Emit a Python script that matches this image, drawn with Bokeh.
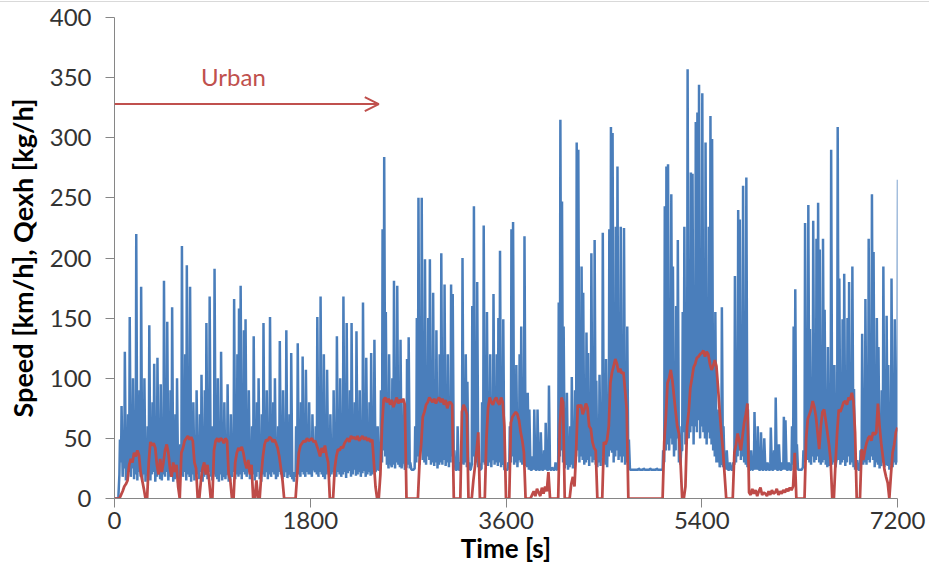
from bokeh.plotting import figure
from bokeh.models import Arrow, OpenHead, FixedTicker, Label, Range1d, Div
from bokeh.layouts import column
from bokeh.embed import file_html
from bokeh.resources import INLINE

# ---- data ----
STEP_Q = 15    # s per exhaust-flow window (min at window start, max inside the window)
PEAK_AT = 5    # s into the window where the max is plotted
STEP_V = 15    # s between speed samples

# exhaust flow Qexh [kg/h]: maximum in each 15 s window
qexh = [
    0, 0, 0, 49, 77, 40, 122, 30, 70, 151, 45, 100, 60, 220, 40, 90, 176, 30, 100, 25,
    60, 144, 35, 80, 112, 30, 117, 40, 95, 30, 181, 55, 147, 35, 90, 159, 30, 70, 100, 25,
    45, 210, 40, 120, 194, 50, 176, 35, 80, 30, 90, 40, 70, 103, 30, 90, 146, 40, 168, 50,
    60, 191, 40, 100, 35, 122, 30, 80, 25, 95, 30, 70, 40, 166, 30, 120, 158, 177, 40, 140,
    149, 30, 90, 25, 60, 135, 30, 80, 100, 25, 70, 146, 35, 90, 40, 151, 30, 80, 100, 25,
    60, 131, 35, 90, 30, 140, 25, 70, 121, 20, 22, 60, 129, 30, 80, 118, 30, 107, 40, 80,
    30, 70, 25, 60, 151, 40, 168, 50, 120, 30, 107, 25, 70, 30, 90, 30, 135, 40, 100, 30,
    168, 40, 146, 30, 90, 146, 30, 80, 139, 25, 90, 30, 163, 40, 117, 25, 80, 121, 30, 132,
    25, 60, 24, 90, 224, 284, 155, 40, 120, 30, 100, 181, 60, 177, 40, 132, 30, 80, 25, 116,
    134, 30, 24, 24, 60, 150, 250, 50, 250, 120, 199, 60, 150, 199, 50, 171, 60, 140, 40, 120,
    204, 50, 178, 40, 120, 60, 178, 170, 40, 24, 60, 24, 30, 200, 60, 120, 97, 30, 24, 160,
    243, 60, 180, 30, 24, 80, 227, 60, 155, 50, 120, 40, 170, 60, 120, 150, 206, 50, 149, 24,
    24, 30, 60, 224, 230, 80, 111, 40, 120, 143, 60, 218, 40, 88, 74, 24, 35, 74, 24, 74,
    24, 55, 24, 40, 63, 24, 94, 24, 26, 24, 30, 24, 163, 315, 247, 143, 40, 88, 30, 60,
    101, 40, 90, 296, 290, 80, 193, 171, 60, 138, 121, 50, 204, 70, 215, 98, 40, 103, 50, 221,
    60, 116, 50, 224, 309, 304, 90, 226, 276, 120, 226, 100, 225, 90, 143, 49, 24, 24, 24, 24,
    24, 25, 24, 24, 25, 24, 24, 24, 25, 24, 24, 24, 25, 24, 24, 24, 40, 243, 276, 278,
    60, 253, 193, 60, 160, 215, 60, 40, 155, 226, 80, 357, 100, 271, 270, 90, 313, 321, 344, 100,
    337, 120, 296, 100, 226, 318, 299, 90, 155, 60, 74, 30, 159, 60, 32, 40, 24, 30, 24, 30,
    185, 60, 240, 232, 70, 260, 80, 267, 74, 24, 40, 24, 72, 30, 60, 24, 55, 24, 50, 24,
    30, 24, 59, 24, 40, 84, 24, 45, 24, 30, 68, 65, 24, 30, 24, 60, 143, 174, 45, 24,
    24, 24, 40, 229, 100, 244, 141, 50, 231, 80, 216, 246, 207, 60, 216, 157, 50, 126, 40, 290,
    60, 111, 30, 309, 183, 60, 149, 187, 50, 150, 180, 60, 193, 91, 30, 32, 24, 40, 137, 60,
    166, 50, 216, 80, 253, 205, 40, 150, 126, 30, 90, 193, 40, 152, 111, 30, 183, 50, 149, 60,
    265,
]

# exhaust flow Qexh [kg/h]: minimum in each 15 s window
qexh_min = [
    0, 0, 0, 20, 30, 18, 25, 15, 20, 22, 18, 25, 16, 20, 15, 22, 18, 15, 20, 14,
    18, 25, 15, 20, 22, 14, 18, 20, 16, 15, 20, 18, 22, 15, 18, 20, 14, 16, 22, 13,
    16, 20, 18, 22, 15, 20, 18, 14, 20, 15, 18, 20, 16, 22, 14, 18, 20, 16, 22, 18,
    15, 20, 18, 16, 14, 20, 15, 18, 16, 20, 14, 15, 18, 22, 16, 20, 18, 20, 16, 22,
    20, 18, 22, 16, 18, 20, 15, 18, 22, 16, 14, 20, 18, 22, 16, 20, 18, 22, 20, 16,
    18, 22, 20, 16, 18, 22, 17, 20, 18, 16, 14, 18, 22, 20, 18, 22, 20, 18, 22, 20,
    20, 18, 25, 22, 20, 18, 22, 20, 18, 16, 20, 22, 18, 20, 22, 20, 18, 22, 20, 18,
    20, 22, 17, 21, 23, 18, 20, 24, 19, 20, 22, 18, 21, 23, 18, 20, 22, 19, 20, 22,
    22, 24, 23, 25, 30, 40, 35, 28, 25, 30, 26, 28, 25, 30, 28, 26, 25, 30, 24, 26,
    28, 25, 24, 24, 25, 30, 35, 28, 40, 32, 30, 28, 35, 32, 28, 30, 27, 30, 25, 28,
    30, 28, 32, 27, 30, 26, 30, 35, 28, 24, 24, 24, 24, 30, 28, 30, 26, 25, 24, 28,
    35, 28, 30, 26, 24, 25, 30, 28, 32, 27, 30, 26, 32, 28, 30, 27, 30, 26, 28, 24,
    24, 24, 25, 30, 35, 28, 30, 26, 32, 30, 28, 35, 27, 26, 24, 24, 24, 24, 24, 24,
    24, 24, 24, 24, 24, 24, 24, 24, 24, 24, 24, 24, 30, 35, 40, 30, 25, 28, 24, 26,
    28, 25, 27, 35, 40, 30, 35, 32, 28, 30, 32, 27, 35, 30, 32, 28, 26, 30, 27, 35,
    30, 28, 26, 35, 40, 38, 30, 35, 40, 32, 35, 30, 35, 28, 30, 24, 24, 24, 24, 24,
    24, 24, 24, 24, 24, 24, 24, 24, 24, 24, 24, 24, 24, 24, 24, 24, 24, 30, 40, 45,
    40, 50, 45, 35, 40, 50, 30, 28, 40, 55, 45, 60, 50, 55, 60, 45, 60, 55, 65, 50,
    60, 55, 50, 45, 55, 50, 45, 40, 35, 30, 30, 26, 28, 26, 24, 24, 24, 24, 24, 24,
    28, 30, 35, 40, 32, 35, 30, 28, 26, 24, 24, 24, 25, 24, 24, 24, 24, 24, 24, 24,
    24, 24, 24, 24, 24, 24, 24, 24, 24, 24, 24, 24, 24, 24, 24, 24, 28, 30, 24, 24,
    24, 24, 26, 30, 35, 32, 30, 28, 35, 30, 32, 35, 30, 28, 30, 32, 28, 26, 27, 30,
    28, 30, 26, 35, 32, 28, 30, 32, 27, 30, 35, 28, 30, 26, 24, 24, 24, 24, 30, 28,
    30, 28, 32, 30, 35, 32, 26, 30, 28, 25, 27, 30, 26, 28, 27, 24, 28, 26, 30, 28,
    30,
]

# vehicle speed [km/h], every 15 s
speed = [
    0, 0, 0, 0, 3, 6, 10, 12, 15, 28, 33, 30, 38, 35, 40, 36, 22, 15, 8, 0,
    0, 30, 47, 44, 46, 42, 28, 20, 33, 22, 30, 40, 45, 38, 25, 18, 30, 22, 28, 10,
    0, 38, 42, 48, 50, 52, 49, 51, 48, 30, 25, 0, 0, 15, 25, 30, 20, 28, 15, 0,
    0, 40, 48, 50, 47, 50, 49, 46, 50, 48, 20, 15, 0, 0, 30, 38, 42, 40, 43, 38,
    30, 25, 32, 20, 28, 0, 0, 15, 0, 0, 20, 35, 45, 49, 48, 51, 50, 47, 49, 46,
    42, 35, 25, 15, 0, 0, 0, 0, 0, 0, 0, 0, 20, 38, 44, 46, 48, 47, 50, 48,
    49, 50, 47, 48, 44, 40, 35, 42, 38, 44, 36, 30, 0, 0, 0, 25, 35, 41, 40, 43,
    42, 46, 48, 50, 47, 52, 50, 51, 49, 52, 48, 50, 52, 49, 51, 48, 50, 47, 49, 30,
    10, 0, 0, 20, 60, 82, 84, 80, 83, 78, 82, 76, 80, 84, 79, 82, 80, 83, 78, 0,
    0, 0, 0, 0, 0, 0, 0, 30, 45, 68, 72, 78, 80, 84, 82, 80, 83, 79, 82, 84,
    80, 83, 78, 82, 75, 80, 80, 78, 0, 0, 0, 0, 0, 72, 78, 75, 70, 0, 0, 0,
    15, 27, 40, 55, 0, 0, 0, 0, 50, 75, 84, 80, 78, 82, 84, 80, 78, 84, 80, 60,
    0, 0, 0, 63, 68, 70, 72, 70, 65, 55, 48, 38, 0, 0, 0, 0, 3, 6, 2, 8,
    5, 2, 9, 4, 10, 6, 22, 0, 0, 0, 0, 0, 0, 60, 84, 80, 0, 0, 0, 0,
    12, 18, 10, 40, 78, 76, 78, 70, 74, 79, 75, 60, 58, 47, 42, 40, 0, 0, 0, 0,
    47, 45, 49, 60, 96, 105, 110, 116, 112, 105, 108, 104, 105, 90, 74, 0, 0, 0, 0, 0,
    0, 0, 0, 0, 0, 0, 0, 0, 0, 0, 0, 0, 0, 0, 0, 0, 0, 47, 68, 96,
    100, 107, 98, 85, 72, 60, 54, 30, 0, 0, 10, 60, 72, 92, 100, 109, 112, 117, 118, 120,
    121, 123, 118, 122, 120, 112, 107, 110, 115, 110, 92, 72, 55, 40, 20, 0, 0, 0, 0, 0,
    38, 45, 54, 48, 40, 52, 63, 70, 79, 5, 3, 8, 4, 7, 2, 6, 9, 3, 5, 4,
    2, 6, 3, 7, 4, 5, 8, 3, 6, 4, 7, 5, 8, 6, 9, 7, 10, 38, 0, 0,
    0, 0, 0, 0, 50, 66, 70, 74, 81, 76, 68, 55, 41, 60, 72, 74, 65, 55, 45, 32,
    0, 0, 30, 55, 74, 72, 76, 80, 81, 78, 84, 82, 88, 81, 55, 0, 0, 0, 41, 32,
    40, 46, 50, 52, 48, 55, 53, 55, 79, 60, 46, 35, 24, 18, 13, 0, 20, 38, 45, 55,
    59,
]

x_ticks = [0, 1800, 3600, 5400, 7200]
y_ticks = [0, 50, 100, 150, 200, 250, 300, 350, 400]

URBAN_END = 2430
URBAN_LEVEL = 328

# build the exhaust-flow trace: window minimum, then window maximum
q_x, q_y = [], []
for i, (lo, hi) in enumerate(zip(qexh_min, qexh)):
    t = i * STEP_Q
    q_x += [t, t + PEAK_AT]
    q_y += [lo, hi]
t_v = [i * STEP_V for i in range(len(speed))]

BLUE = "#4A7EBB"
RED = "#BE4B48"
ANNOT = "#C0504D"
AXIS = "#868686"
FONT = "Lato"

p = figure(width=929, height=568, output_backend="svg", toolbar_location=None,
           x_range=Range1d(0, 7200), y_range=Range1d(0, 400),
           min_border_left=114, min_border_right=32, min_border_top=15, min_border_bottom=72)
p.outline_line_color = None
p.xgrid.visible = False
p.ygrid.visible = False

p.line(q_x, q_y, line_color=BLUE, line_width=2.5)
p.line(t_v, speed, line_color=RED, line_width=2.75)

p.xaxis.ticker = FixedTicker(ticks=x_ticks)
p.yaxis.ticker = FixedTicker(ticks=y_ticks)
for ax in (p.xaxis[0], p.yaxis[0]):
    ax.axis_line_color = AXIS
    ax.major_tick_line_color = AXIS
    ax.major_tick_out = 9
    ax.major_tick_in = 0
    ax.minor_tick_out = 0
    ax.minor_tick_in = 0
    ax.major_label_text_font = FONT
    ax.major_label_text_font_size = "24px"
    ax.major_label_text_color = "#333333"
    ax.axis_label_text_font = FONT
    ax.axis_label_text_font_style = "bold"
    ax.axis_label_text_color = "#000000"
p.xaxis.axis_label_text_font_size = "26px"
p.yaxis.axis_label_text_font_size = "27px"
p.xaxis.axis_label = "Time [s]"
p.yaxis.axis_label = "Speed [km/h], Qexh [kg/h]"
p.xaxis.major_label_standoff = 4
p.yaxis.major_label_standoff = 14
p.xaxis.axis_label_standoff = 0
p.yaxis.axis_label_standoff = 8

p.add_layout(Arrow(end=OpenHead(size=14, line_color=ANNOT, line_width=2),
                   x_start=0, y_start=URBAN_LEVEL, x_end=URBAN_END, y_end=URBAN_LEVEL,
                   line_color=ANNOT, line_width=2))
p.add_layout(Label(x=1094, y=351, text="Urban", text_align="center", text_baseline="middle",
                   text_font=FONT, text_font_size="24px", text_color=ANNOT))

# thin light-grey frame edge along the top of the chart area
top_edge = Div(text="", width=929, height=2, margin=0,
               styles={"border-bottom": "1px solid #d9d9d9"})
layout = column(top_edge, p, spacing=0)

open("out.html", "w").write(file_html(layout, INLINE))
